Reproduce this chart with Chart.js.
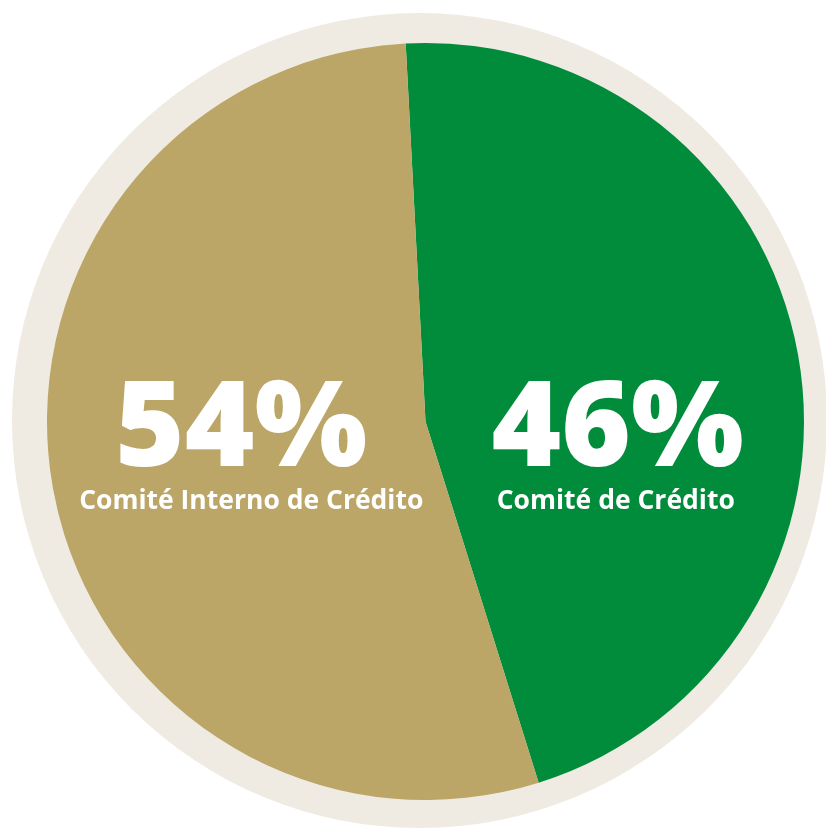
<!DOCTYPE html>
<html>
<head>
<meta charset="utf-8">
<script src="https://cdn.jsdelivr.net/npm/chart.js@4/dist/chart.umd.min.js"></script>
<style>
  html, body { margin: 0; padding: 0; background: #ffffff; }
  #wrap { width: 826px; height: 833px; }
</style>
</head>
<body>
<div id="wrap"><canvas id="myChart" width="826" height="833"></canvas></div>
<script>
const labels = ['Comité de Crédito', 'Comité Interno de Crédito']
const values = [46, 54]
const pctLabels = ['46%', '54%']
const colors = ['#008C3A', '#BBA667']

// beige disc behind the pie
const ringPlugin = {
    id: 'ring',
    beforeDatasetsDraw(chart) {
        const arc = chart.getDatasetMeta(0).data[0]
        const ctx = chart.ctx
        ctx.save()
        ctx.beginPath()
        ctx.arc(arc.x - 6, arc.y - 1, arc.outerRadius + 29, 0, Math.PI * 2)
        ctx.fillStyle = '#EFEBE2'
        ctx.fill()
        ctx.restore()
    }
}

// big percentage + name inside each slice
const textPlugin = {
    id: 'sliceText',
    afterDatasetsDraw(chart) {
        const ctx = chart.ctx
        const meta = chart.getDatasetMeta(0)
        const nudge = [[6, 4], [2, 12]]
        ctx.save()
        ctx.fillStyle = '#ffffff'
        ctx.textAlign = 'center'
        ctx.textBaseline = 'alphabetic'
        meta.data.forEach(function (arc, i) {
            const p = arc.getCenterPoint()
            const cy = arc.y
            ctx.font = '800 119px "Open Sans"'
            ctx.fillText(pctLabels[i], p.x + nudge[i][0], cy + 44)
            ctx.font = '700 26.5px "Open Sans"'
            ctx.fillText(labels[i], p.x + nudge[i][1], cy + 87)
        })
        ctx.restore()
    }
}

const ctx = document.getElementById('myChart')
const myChart = new Chart(ctx, {
    type: 'pie',
    data: {
        labels: labels,
        datasets: [{
            data: values,
            backgroundColor: colors,
            borderWidth: 0
        }]
    },
    options: {
        responsive: false,
        animation: false,
        rotation: -3,
        layout: { padding: { left: 46, right: 21, top: 43, bottom: 33 } },
        plugins: {
            legend: { display: false },
            tooltip: { enabled: false }
        }
    },
    plugins: [ringPlugin, textPlugin]
})
</script>
</body>
</html>
